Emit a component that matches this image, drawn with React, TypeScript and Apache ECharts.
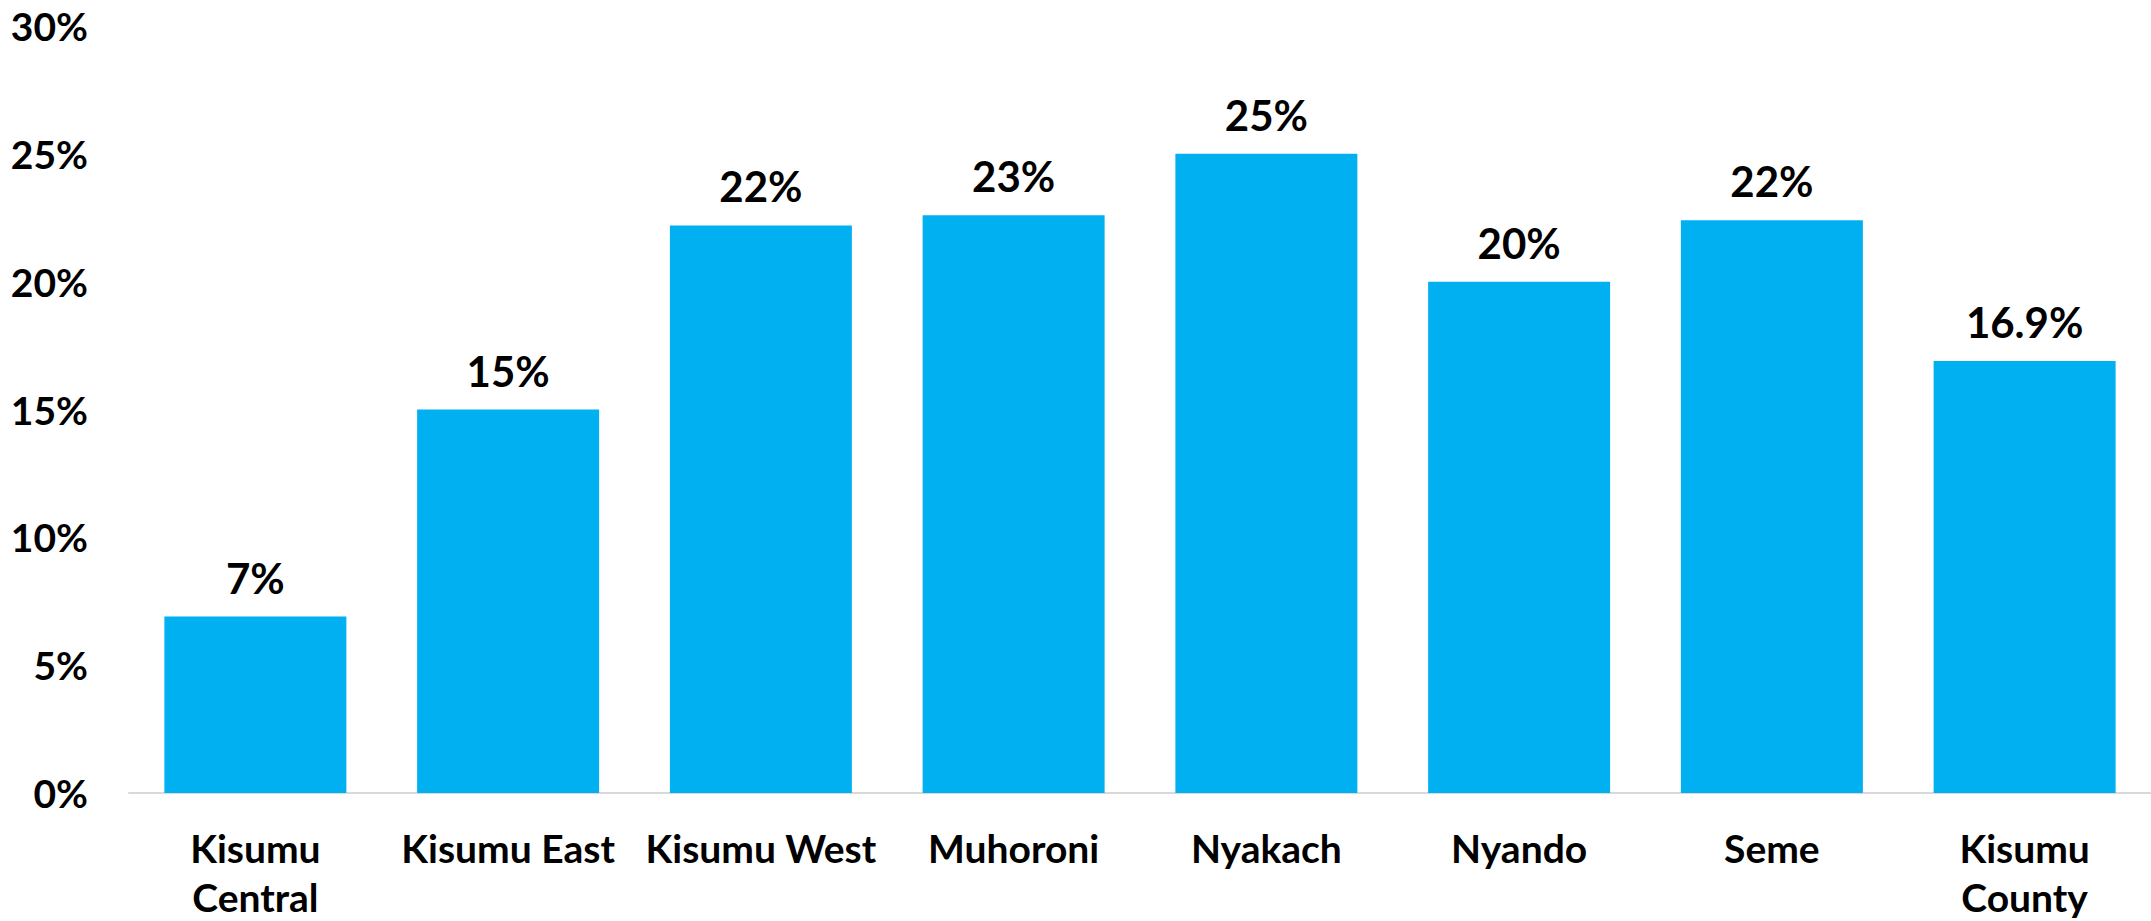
import React, { useEffect, useRef } from "react";
import * as echarts from "echarts";

const categories: string[] = [
  "Kisumu\nCentral",
  "Kisumu East",
  "Kisumu West",
  "Muhoroni",
  "Nyakach",
  "Nyando",
  "Seme",
  "Kisumu\nCounty",
];
const values: number[] = [6.9, 15.0, 22.2, 22.6, 25.0, 20.0, 22.4, 16.9];
const valueLabels: string[] = ["7%", "15%", "22%", "23%", "25%", "20%", "22%", "16.9%"];
const yTicks: number[] = [0, 5, 10, 15, 20, 25, 30];

const FONT = "Lato";
const FS = 39;
const FS_LABEL = 42;

export default function App() {
  const ref = useRef<HTMLDivElement>(null);
  useEffect(() => {
    if (!ref.current) return;
    const chart = echarts.init(ref.current, null, { renderer: "svg" });
    chart.setOption({
      animation: false,
      backgroundColor: "#ffffff",
      grid: { left: 129, right: 0, top: 26, bottom: 119, containLabel: false },
      xAxis: {
        type: "category",
        data: categories,
        axisLine: { show: true, lineStyle: { color: "#d9d9d9", width: 2 } },
        axisTick: { show: false },
        axisLabel: {
          interval: 0,
          margin: 30,
          fontFamily: FONT,
          fontWeight: "bold",
          fontSize: FS,
          color: "#000000",
          lineHeight: 49,
        },
      },
      yAxis: {
        type: "value",
        min: yTicks[0],
        max: yTicks[yTicks.length - 1],
        interval: 5,
        splitLine: { show: false },
        axisLine: { show: false },
        axisTick: { show: false },
        axisLabel: {
          margin: 41,
          formatter: "{value}%",
          fontFamily: FONT,
          fontWeight: "bold",
          fontSize: FS,
          color: "#000000",
        },
      },
      series: [
        {
          type: "bar",
          data: values,
          barCategoryGap: "28%",
          itemStyle: { color: "#00b0f0" },
          label: {
            show: true,
            position: "top",
            distance: 18,
            formatter: (p: any) => valueLabels[p.dataIndex],
            fontFamily: FONT,
            fontWeight: "bold",
            fontSize: FS_LABEL,
            color: "#000000",
          },
        },
      ],
    });
    return () => chart.dispose();
  }, []);
  return (
    <div
      ref={ref}
      style={{ position: "absolute", left: 0, top: 0, width: 2151, height: 921, background: "#fff" }}
    />
  );
}
